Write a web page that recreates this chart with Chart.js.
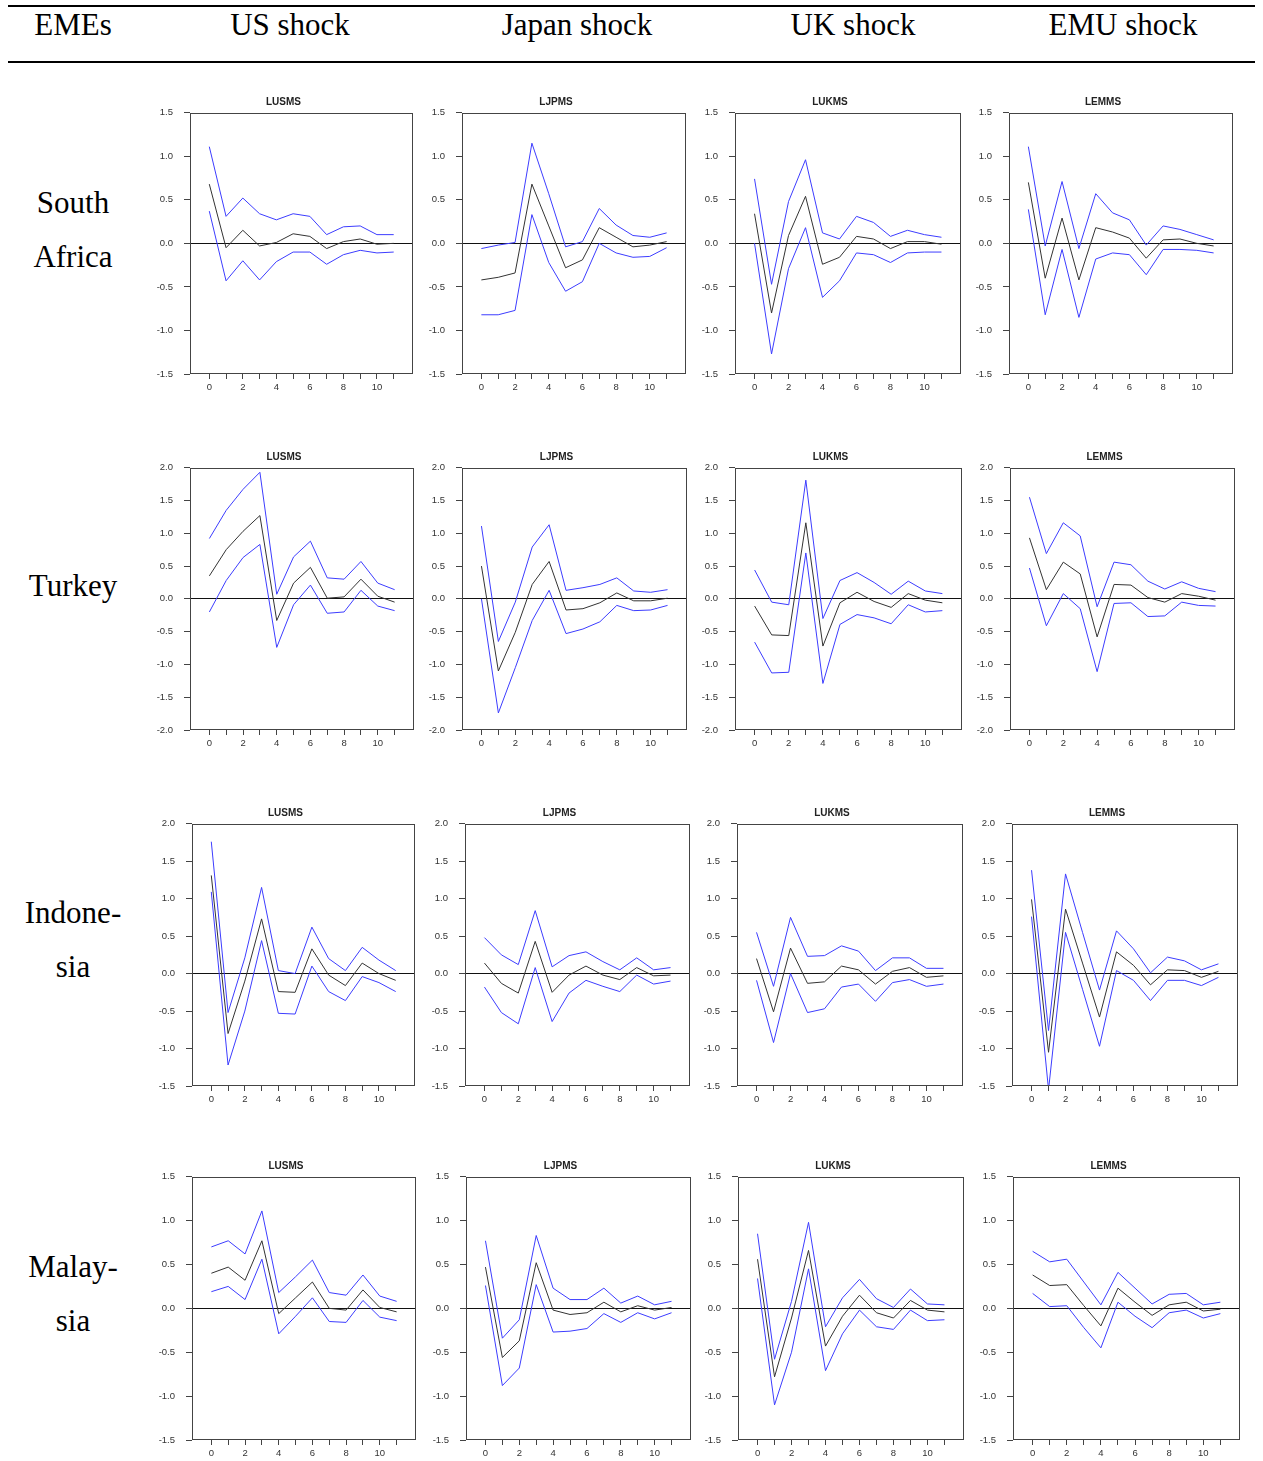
<!DOCTYPE html>
<html>
<head>
<meta charset="utf-8">
<script src="https://cdn.jsdelivr.net/npm/chart.js@4.4.1/dist/chart.umd.min.js"></script>
<style>
  body { margin: 0; background: #fff; }
  #page { position: relative; width: 1263px; height: 1461px; overflow: hidden; font-family: "Liberation Serif", "Times New Roman", serif; color: #000; }
  .rule { position: absolute; left: 8px; width: 1247px; height: 2px; background: #000; }
  .txt { position: absolute; font-size: 31px; line-height: 30px; text-align: center; white-space: nowrap; }
  canvas { position: absolute; }
</style>
</head>
<body>
<div id="page"></div>
<script>
// impulse responses, horizons 0..11 : upper band / point estimate / lower band
var horizons = [0, 1, 2, 3, 4, 5, 6, 7, 8, 9, 10, 11];
var xTickLabels = [0, 2, 4, 6, 8, 10];
var shockCodes = ['LUSMS', 'LJPMS', 'LUKMS', 'LEMMS'];
var headers = ['EMEs', 'US shock', 'Japan shock', 'UK shock', 'EMU shock'];
var rowLabels = [['South', 'Africa'], ['Turkey'], ['Indone-', 'sia'], ['Malay-', 'sia']];
var rowYMin = [-1.5, -2, -1.5, -1.5];
var rowYMax = [1.5, 2, 2, 1.5];

// South Africa
var saf_us_up  = [1.11, 0.31, 0.52, 0.34, 0.27, 0.34, 0.31, 0.10, 0.19, 0.20, 0.10, 0.10];
var saf_us_mid = [0.68, -0.05, 0.15, -0.03, 0.01, 0.11, 0.08, -0.06, 0.02, 0.05, -0.01, 0.00];
var saf_us_lo  = [0.37, -0.43, -0.20, -0.42, -0.21, -0.10, -0.10, -0.24, -0.13, -0.08, -0.11, -0.10];
var saf_jp_up  = [-0.06, -0.02, 0.01, 1.15, 0.57, -0.04, 0.02, 0.40, 0.21, 0.09, 0.07, 0.12];
var saf_jp_mid = [-0.42, -0.39, -0.34, 0.68, 0.20, -0.28, -0.19, 0.18, 0.07, -0.04, -0.02, 0.02];
var saf_jp_lo  = [-0.82, -0.82, -0.77, 0.33, -0.22, -0.55, -0.44, 0.00, -0.11, -0.16, -0.15, -0.05];
var saf_uk_up  = [0.74, -0.47, 0.48, 0.96, 0.12, 0.05, 0.31, 0.24, 0.08, 0.15, 0.10, 0.07];
var saf_uk_mid = [0.34, -0.80, 0.09, 0.54, -0.24, -0.16, 0.08, 0.05, -0.06, 0.02, 0.02, -0.01];
var saf_uk_lo  = [0.00, -1.27, -0.29, 0.18, -0.62, -0.43, -0.11, -0.13, -0.22, -0.11, -0.10, -0.10];
var saf_emu_up  = [1.11, -0.03, 0.71, -0.06, 0.57, 0.35, 0.27, -0.02, 0.20, 0.16, 0.10, 0.04];
var saf_emu_mid = [0.70, -0.40, 0.29, -0.42, 0.18, 0.13, 0.06, -0.17, 0.04, 0.05, 0.00, -0.03];
var saf_emu_lo  = [0.39, -0.82, -0.07, -0.85, -0.18, -0.11, -0.13, -0.36, -0.07, -0.07, -0.08, -0.11];

// Turkey
var tur_us_up  = [0.92, 1.35, 1.67, 1.93, 0.07, 0.64, 0.88, 0.32, 0.30, 0.57, 0.24, 0.14];
var tur_us_mid = [0.35, 0.75, 1.03, 1.27, -0.33, 0.24, 0.48, 0.01, 0.03, 0.30, 0.04, -0.05];
var tur_us_lo  = [-0.20, 0.28, 0.63, 0.83, -0.74, -0.09, 0.21, -0.22, -0.20, 0.13, -0.11, -0.18];
var tur_jp_up  = [1.11, -0.65, -0.05, 0.79, 1.13, 0.13, 0.17, 0.22, 0.32, 0.12, 0.10, 0.14];
var tur_jp_mid = [0.50, -1.10, -0.51, 0.22, 0.57, -0.17, -0.15, -0.06, 0.09, -0.03, -0.03, 0.01];
var tur_jp_lo  = [0.00, -1.74, -1.05, -0.33, 0.13, -0.53, -0.46, -0.35, -0.10, -0.18, -0.17, -0.10];
var tur_uk_up  = [0.44, -0.05, -0.09, 1.81, -0.30, 0.28, 0.40, 0.25, 0.07, 0.27, 0.12, 0.08];
var tur_uk_mid = [-0.11, -0.55, -0.56, 1.16, -0.72, -0.06, 0.10, -0.04, -0.13, 0.08, -0.02, -0.06];
var tur_uk_lo  = [-0.66, -1.13, -1.12, 0.70, -1.29, -0.39, -0.24, -0.29, -0.38, -0.09, -0.20, -0.18];
var tur_emu_up  = [1.55, 0.69, 1.16, 0.96, -0.12, 0.56, 0.52, 0.27, 0.15, 0.26, 0.16, 0.11];
var tur_emu_mid = [0.93, 0.14, 0.56, 0.38, -0.58, 0.22, 0.21, 0.02, -0.05, 0.08, 0.04, -0.02];
var tur_emu_lo  = [0.47, -0.41, 0.08, -0.15, -1.11, -0.07, -0.06, -0.27, -0.26, -0.05, -0.10, -0.11];

// Indonesia
var idn_us_up  = [1.76, -0.52, 0.21, 1.15, 0.04, 0.00, 0.62, 0.20, 0.04, 0.35, 0.18, 0.04];
var idn_us_mid = [1.31, -0.80, -0.10, 0.73, -0.24, -0.25, 0.33, -0.02, -0.16, 0.14, 0.00, -0.09];
var idn_us_lo  = [1.09, -1.22, -0.50, 0.44, -0.53, -0.54, 0.10, -0.24, -0.36, -0.04, -0.12, -0.24];
var idn_jp_up  = [0.48, 0.25, 0.12, 0.84, 0.09, 0.24, 0.29, 0.16, 0.05, 0.21, 0.05, 0.08];
var idn_jp_mid = [0.14, -0.13, -0.26, 0.43, -0.25, -0.02, 0.10, -0.02, -0.08, 0.08, -0.03, -0.02];
var idn_jp_lo  = [-0.18, -0.52, -0.67, 0.08, -0.64, -0.26, -0.09, -0.17, -0.24, -0.02, -0.14, -0.10];
var idn_uk_up  = [0.55, -0.17, 0.75, 0.23, 0.24, 0.37, 0.30, 0.04, 0.21, 0.21, 0.07, 0.07];
var idn_uk_mid = [0.20, -0.51, 0.34, -0.13, -0.11, 0.10, 0.05, -0.14, 0.03, 0.08, -0.05, -0.03];
var idn_uk_lo  = [-0.09, -0.92, 0.00, -0.52, -0.47, -0.18, -0.14, -0.37, -0.12, -0.08, -0.17, -0.14];
var idn_emu_up  = [1.38, -0.76, 1.33, 0.55, -0.22, 0.57, 0.33, 0.01, 0.22, 0.17, 0.05, 0.13];
var idn_emu_mid = [0.99, -1.05, 0.86, 0.14, -0.58, 0.29, 0.11, -0.15, 0.05, 0.04, -0.05, 0.03];
var idn_emu_lo  = [0.76, -1.55, 0.55, -0.21, -0.97, 0.04, -0.09, -0.36, -0.09, -0.09, -0.16, -0.05];

// Malaysia
var mys_us_up  = [0.70, 0.77, 0.62, 1.11, 0.18, 0.36, 0.55, 0.18, 0.15, 0.38, 0.14, 0.08];
var mys_us_mid = [0.40, 0.47, 0.32, 0.77, -0.06, 0.12, 0.30, 0.00, -0.02, 0.21, 0.01, -0.04];
var mys_us_lo  = [0.19, 0.25, 0.10, 0.56, -0.29, -0.09, 0.12, -0.15, -0.16, 0.09, -0.10, -0.14];
var mys_jp_up  = [0.77, -0.34, -0.13, 0.83, 0.23, 0.10, 0.10, 0.23, 0.06, 0.14, 0.04, 0.08];
var mys_jp_mid = [0.47, -0.56, -0.37, 0.52, -0.02, -0.07, -0.05, 0.07, -0.04, 0.03, -0.02, 0.01];
var mys_jp_lo  = [0.26, -0.88, -0.68, 0.27, -0.27, -0.26, -0.23, -0.06, -0.16, -0.05, -0.12, -0.05];
var mys_uk_up  = [0.85, -0.58, 0.08, 0.98, -0.21, 0.12, 0.33, 0.11, 0.01, 0.22, 0.05, 0.04];
var mys_uk_mid = [0.56, -0.78, -0.11, 0.66, -0.43, -0.09, 0.15, -0.05, -0.11, 0.09, -0.02, -0.04];
var mys_uk_lo  = [0.34, -1.10, -0.50, 0.45, -0.71, -0.29, -0.02, -0.21, -0.24, -0.02, -0.14, -0.13];
var mys_emu_up  = [0.65, 0.53, 0.56, 0.30, 0.04, 0.41, 0.23, 0.05, 0.16, 0.17, 0.04, 0.07];
var mys_emu_mid = [0.38, 0.26, 0.27, 0.03, -0.20, 0.23, 0.07, -0.08, 0.04, 0.07, -0.03, -0.01];
var mys_emu_lo  = [0.17, 0.02, 0.03, -0.22, -0.45, 0.07, -0.09, -0.22, -0.05, -0.02, -0.11, -0.06];

var panels = [
  [[saf_us_up, saf_us_mid, saf_us_lo], [saf_jp_up, saf_jp_mid, saf_jp_lo], [saf_uk_up, saf_uk_mid, saf_uk_lo], [saf_emu_up, saf_emu_mid, saf_emu_lo]],
  [[tur_us_up, tur_us_mid, tur_us_lo], [tur_jp_up, tur_jp_mid, tur_jp_lo], [tur_uk_up, tur_uk_mid, tur_uk_lo], [tur_emu_up, tur_emu_mid, tur_emu_lo]],
  [[idn_us_up, idn_us_mid, idn_us_lo], [idn_jp_up, idn_jp_mid, idn_jp_lo], [idn_uk_up, idn_uk_mid, idn_uk_lo], [idn_emu_up, idn_emu_mid, idn_emu_lo]],
  [[mys_us_up, mys_us_mid, mys_us_lo], [mys_jp_up, mys_jp_mid, mys_jp_lo], [mys_uk_up, mys_uk_mid, mys_uk_lo], [mys_emu_up, mys_emu_mid, mys_emu_lo]]
];

// page layout (pixels)
var frameTop = [112, 467, 823, 1176];
var frameBottom = [374, 730, 1086, 1440];
var frameLeft = [[190, 462, 735, 1009], [190, 462, 735, 1010], [192, 465, 737, 1012], [192, 466, 738, 1013]];
var frameRight = [[413, 686, 961, 1233], [414, 687, 962, 1235], [415, 690, 963, 1238], [416, 691, 964, 1240]];
var PAD_L = 10, AXIS_W = 36, TITLE_H = 16, XAXIS_H = 22, PAD_R = 3;
var BLUE = '#3c3cff';
var TICK_FONT = { family: '"Liberation Sans", Arial, sans-serif', size: 9.5 };

var page = document.getElementById('page');

function addDiv(cls, css, text) {
  var d = document.createElement('div');
  d.className = cls;
  for (var k in css) d.style[k] = css[k];
  if (text) d.textContent = text;
  page.appendChild(d);
  return d;
}

addDiv('rule', { top: '5px' });
addDiv('rule', { top: '61px' });
var headerX = [73, 290, 577, 853, 1123];
headers.forEach(function (h, i) {
  addDiv('txt', { left: (headerX[i] - 150) + 'px', width: '300px', top: '10px' }, h);
});
var rowLabelTop = [188, 571, 898, 1252];
rowLabels.forEach(function (lines, r) {
  lines.forEach(function (t, j) {
    addDiv('txt', { left: '0px', width: '146px', top: (rowLabelTop[r] + j * 54) + 'px' }, t);
  });
});

// box around the plot area
var framePlugin = {
  id: 'frame',
  afterDraw: function (chart) {
    var a = chart.chartArea, ctx = chart.ctx;
    ctx.save();
    ctx.strokeStyle = '#444';
    ctx.lineWidth = 1;
    ctx.strokeRect(Math.round(a.left) + 0.5, Math.round(a.top) + 0.5,
      Math.round(a.right - a.left) - 1, Math.round(a.bottom - a.top) - 1);
    ctx.restore();
  }
};

for (var r = 0; r < 4; r++) {
  for (var c = 0; c < 4; c++) {
    var fl = frameLeft[r][c], fr = frameRight[r][c];
    var cv = document.createElement('canvas');
    var w = fr - fl + PAD_L + AXIS_W + PAD_R;
    var h = frameBottom[r] - frameTop[r] + TITLE_H + XAXIS_H;
    cv.width = w; cv.height = h;
    cv.style.left = (fl - AXIS_W - PAD_L) + 'px';
    cv.style.top = (frameTop[r] - TITLE_H) + 'px';
    cv.style.width = w + 'px'; cv.style.height = h + 'px';
    page.appendChild(cv);
    var set = panels[r][c];

    new Chart(cv.getContext('2d'), {
      type: 'line',
      data: {
        labels: horizons,
        datasets: [
          { data: set[0], borderColor: BLUE },
          { data: set[2], borderColor: BLUE },
          { data: set[1], borderColor: '#333' }
        ]
      },
      options: {
        responsive: false,
        animation: false,
        devicePixelRatio: 1,
        layout: { padding: { left: PAD_L, right: PAD_R, top: 0, bottom: 0 } },
        elements: { point: { radius: 0 }, line: { borderWidth: 1, tension: 0 } },
        plugins: {
          legend: { display: false },
          tooltip: { enabled: false },
          title: {
            display: true,
            text: shockCodes[c],
            color: '#222',
            font: { family: '"Liberation Sans", Arial, sans-serif', size: 10, weight: 'bold', lineHeight: 1.2 },
            padding: { top: 0, bottom: 4 }
          }
        },
        scales: {
          x: {
            type: 'linear',
            min: -1.15,
            max: 12.15,
            afterFit: function (s) { s.height = XAXIS_H; },
            border: { display: false },
            grid: {
              drawOnChartArea: false,
              tickLength: 5,
              tickColor: function (ctx) {
                var v = ctx.tick ? ctx.tick.value : null;
                return (v !== null && v >= 0 && v <= 11) ? '#444' : 'rgba(0,0,0,0)';
              }
            },
            ticks: {
              stepSize: 1,
              includeBounds: false,
              autoSkip: false,
              maxRotation: 0,
              padding: 3,
              color: '#333',
              font: TICK_FONT,
              callback: function (v) { return xTickLabels.indexOf(v) >= 0 ? String(v) : ''; }
            }
          },
          y: {
            min: rowYMin[r],
            max: rowYMax[r],
            afterFit: function (s) { s.width = AXIS_W; },
            border: { display: false },
            grid: {
              color: function (ctx) { return ctx.tick && ctx.tick.value === 0 ? '#111' : 'rgba(0,0,0,0)'; },
              tickColor: '#444',
              tickLength: 6
            },
            ticks: {
              stepSize: 0.5,
              padding: 11,
              color: '#333',
              font: TICK_FONT,
              callback: function (v) { return v.toFixed(1); }
            }
          }
        }
      },
      plugins: [framePlugin]
    });
  }
}
</script>
</body>
</html>
